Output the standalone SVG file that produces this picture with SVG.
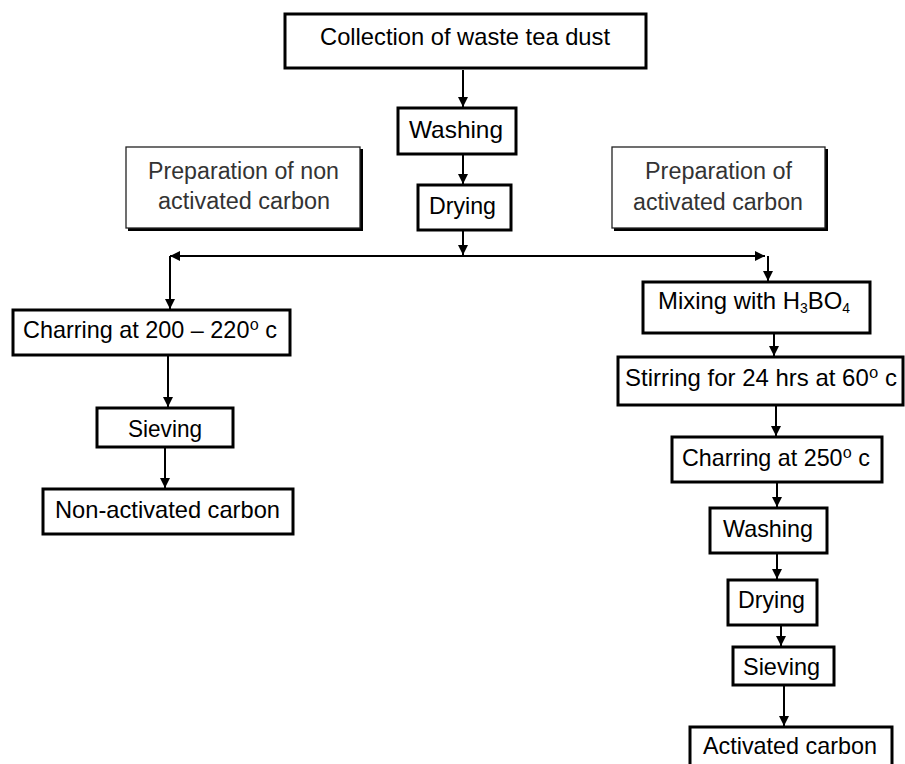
<svg xmlns="http://www.w3.org/2000/svg" width="905" height="764" viewBox="0 0 905 764">
<defs>
<marker id="ah" viewBox="0 0 10 10" refX="10" refY="5" markerWidth="5" markerHeight="5" orient="auto" markerUnits="strokeWidth">
<path d="M0,0 L10,5 L0,10 z" fill="#000"/>
</marker>
<style>
.box{fill:#fff;stroke:#000;stroke-width:3}
.sh{fill:none;stroke:#000;stroke-width:3}
.lbl{fill:#fff;stroke:#222;stroke-width:1.3}
.t{font-family:"Liberation Sans","DejaVu Sans",Arial,sans-serif;font-size:24px;fill:#000}
.lt{font-family:"Liberation Sans",Arial,sans-serif;font-size:23px;fill:#333}
.ca{fill:none;stroke:#000;stroke-width:2;marker-end:url(#ah)}
</style>
</defs>
<rect width="905" height="764" fill="#fff"/>

<g id="connectors">
<line class="ca" x1="463" y1="70" x2="463" y2="107"/>
<line class="ca" x1="463" y1="155" x2="463" y2="184"/>
<line class="ca" x1="463" y1="231" x2="463" y2="255"/>
<line class="ca" x1="463" y1="256" x2="170" y2="256"/>
<line class="ca" x1="463" y1="256" x2="765" y2="256"/>
<line class="ca" x1="170" y1="256" x2="170" y2="309"/>
<line class="ca" x1="768" y1="256" x2="768" y2="281"/>
<line class="ca" x1="168" y1="356" x2="168" y2="407"/>
<line class="ca" x1="165" y1="448" x2="165" y2="488"/>
<line class="ca" x1="774" y1="334" x2="774" y2="356"/>
<line class="ca" x1="776" y1="406" x2="776" y2="436"/>
<line class="ca" x1="777" y1="483" x2="777" y2="507"/>
<line class="ca" x1="777" y1="554" x2="777" y2="579"/>
<line class="ca" x1="781" y1="626" x2="781" y2="646"/>
<line class="ca" x1="784" y1="686" x2="784" y2="726"/>
</g>

<g id="n-collection">
<rect class="box" x="285" y="14" width="361" height="54"/>
<text class="t" x="320" y="45" textLength="290" lengthAdjust="spacingAndGlyphs">Collection of waste tea dust</text>
</g>
<g id="n-washing1">
<rect class="box" x="398" y="108" width="118" height="46"/>
<text class="t" x="409" y="138" textLength="94" lengthAdjust="spacingAndGlyphs">Washing</text>
</g>
<g id="n-drying1">
<rect class="box" x="418" y="185" width="93" height="45"/>
<text class="t" x="429" y="214" textLength="67" lengthAdjust="spacingAndGlyphs">Drying</text>
</g>
<g id="label-non">
<path class="sh" d="M361.5,149 V229.5 H128"/>
<rect class="lbl" x="126" y="147" width="234" height="81"/>
<text class="lt" x="148" y="179" textLength="191" lengthAdjust="spacingAndGlyphs">Preparation of non</text>
<text class="lt" x="158" y="209" textLength="172" lengthAdjust="spacingAndGlyphs">activated carbon</text>
</g>
<g id="label-act">
<path class="sh" d="M826.5,149 V229.5 H614"/>
<rect class="lbl" x="612" y="147" width="213" height="81"/>
<text class="lt" x="645" y="179" textLength="147" lengthAdjust="spacingAndGlyphs">Preparation of</text>
<text class="lt" x="633" y="210" textLength="170" lengthAdjust="spacingAndGlyphs">activated carbon</text>
</g>
<g id="n-charring1">
<rect class="box" x="13" y="310" width="277" height="45"/>
<text class="t" x="23" y="338" textLength="254" lengthAdjust="spacingAndGlyphs">Charring at 200 – 220⁰ c</text>
</g>
<g id="n-sieving1">
<rect class="box" x="97" y="408" width="136" height="39"/>
<text class="t" x="128" y="437" textLength="74" lengthAdjust="spacingAndGlyphs">Sieving</text>
</g>
<g id="n-nonact">
<rect class="box" x="43" y="489" width="250" height="45"/>
<text class="t" x="55" y="518" textLength="225" lengthAdjust="spacingAndGlyphs">Non-activated carbon</text>
</g>
<g id="n-mixing">
<rect class="box" x="643" y="282" width="227" height="51"/>
<text class="t" x="658" y="309" textLength="192" lengthAdjust="spacingAndGlyphs">Mixing with H<tspan dy="4" font-size="14">3</tspan><tspan dy="-4">BO</tspan><tspan dy="4" font-size="14">4</tspan></text>
</g>
<g id="n-stirring">
<rect class="box" x="618" y="357" width="285" height="48"/>
<text class="t" x="625" y="386" textLength="272" lengthAdjust="spacingAndGlyphs">Stirring for 24 hrs at 60⁰ c</text>
</g>
<g id="n-charring2">
<rect class="box" x="672" y="437" width="210" height="45"/>
<text class="t" x="682" y="466" textLength="188" lengthAdjust="spacingAndGlyphs">Charring at 250⁰ c</text>
</g>
<g id="n-washing2">
<rect class="box" x="710" y="508" width="117" height="45"/>
<text class="t" x="723" y="537" textLength="90" lengthAdjust="spacingAndGlyphs">Washing</text>
</g>
<g id="n-drying2">
<rect class="box" x="728" y="580" width="89" height="45"/>
<text class="t" x="738" y="608" textLength="67" lengthAdjust="spacingAndGlyphs">Drying</text>
</g>
<g id="n-sieving2">
<rect class="box" x="733" y="647" width="101" height="38"/>
<text class="t" x="743" y="675" textLength="77" lengthAdjust="spacingAndGlyphs">Sieving</text>
</g>
<g id="n-activated">
<rect class="box" x="690" y="727" width="202" height="45"/>
<text class="t" x="703" y="754" textLength="174" lengthAdjust="spacingAndGlyphs">Activated carbon</text>
</g>
</svg>
